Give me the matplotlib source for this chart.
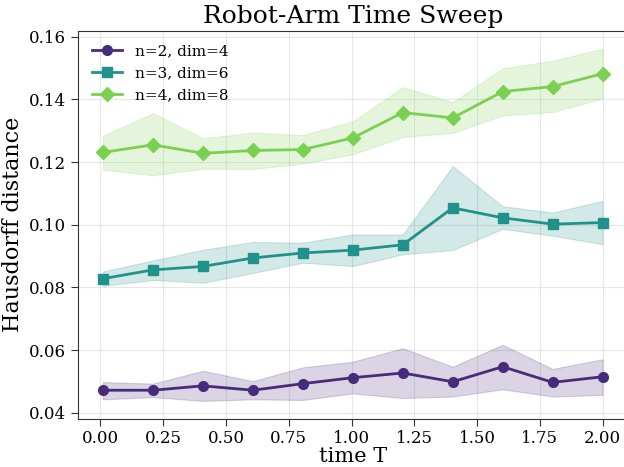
import numpy as np
import matplotlib.pyplot as plt

# -- DATA
time_T = np.linspace(0.01, 2.0, 11)

labels = ['n=2, dim=4', 'n=3, dim=6', 'n=4, dim=8']
markers = ['o', 's', 'D']
colors = ['#472c7a', '#21918c', '#7ad151']

mean_n2 = [0.0472, 0.0472, 0.0486, 0.0472, 0.0493, 0.0512, 0.0527, 0.0499, 0.0547, 0.0497, 0.0515]
low_n2 = [0.0443, 0.0450, 0.0438, 0.0443, 0.0441, 0.0462, 0.0447, 0.0452, 0.0475, 0.0452, 0.0457]
high_n2 = [0.0498, 0.0493, 0.0534, 0.0501, 0.0545, 0.0563, 0.0606, 0.0547, 0.0617, 0.0540, 0.0571]

mean_n3 = [0.0828, 0.0856, 0.0867, 0.0894, 0.0910, 0.0919, 0.0936, 0.1054, 0.1022, 0.1002, 0.1007]
low_n3 = [0.0805, 0.0824, 0.0815, 0.0846, 0.0879, 0.0868, 0.0906, 0.0919, 0.0987, 0.0965, 0.0938]
high_n3 = [0.0851, 0.0886, 0.0920, 0.0945, 0.0943, 0.0969, 0.0969, 0.1187, 0.1059, 0.1039, 0.1076]

mean_n4 = [0.1231, 0.1255, 0.1228, 0.1237, 0.1240, 0.1277, 0.1358, 0.1341, 0.1425, 0.1441, 0.1482]
low_n4 = [0.1176, 0.1158, 0.1179, 0.1178, 0.1195, 0.1225, 0.1280, 0.1293, 0.1349, 0.1360, 0.1403]
high_n4 = [0.1284, 0.1356, 0.1276, 0.1294, 0.1286, 0.1330, 0.1439, 0.1391, 0.1499, 0.1523, 0.1562]

means = [mean_n2, mean_n3, mean_n4]
lows = [low_n2, low_n3, low_n4]
highs = [high_n2, high_n3, high_n4]

# -- PLOT
plt.rcParams['font.family'] = 'DejaVu Serif'

fig = plt.figure(figsize=(6.24, 4.67), dpi=100)
ax = fig.add_axes([78 / 624, 1 - 418.5 / 467, 549.6 / 624, 387.5 / 467])

for m, lo, hi, lab, mk, c in zip(means, lows, highs, labels, markers, colors):
    ax.fill_between(time_T, lo, hi, color=c, alpha=0.2, linewidth=0.8)
    ax.plot(time_T, m, marker=mk, color=c, label=lab, linewidth=2, markersize=7)

ax.grid(True, color='#dddddd', linewidth=0.8, alpha=0.7)
ax.set_axisbelow(True)
ax.spines['right'].set_visible(False)
for s in ['left', 'bottom', 'top']:
    ax.spines[s].set_color('#333333')
ax.tick_params(labelsize=12, direction='out', length=5, color='#333333')

ax.set_title('Robot-Arm Time Sweep', fontsize=18)
ax.set_xlabel('time T', fontsize=15, labelpad=-0.5)
ax.set_ylabel('Hausdorff distance', fontsize=16)
ax.legend(loc='upper left', frameon=False, fontsize=11)

fig.savefig('out.png', dpi=100)
